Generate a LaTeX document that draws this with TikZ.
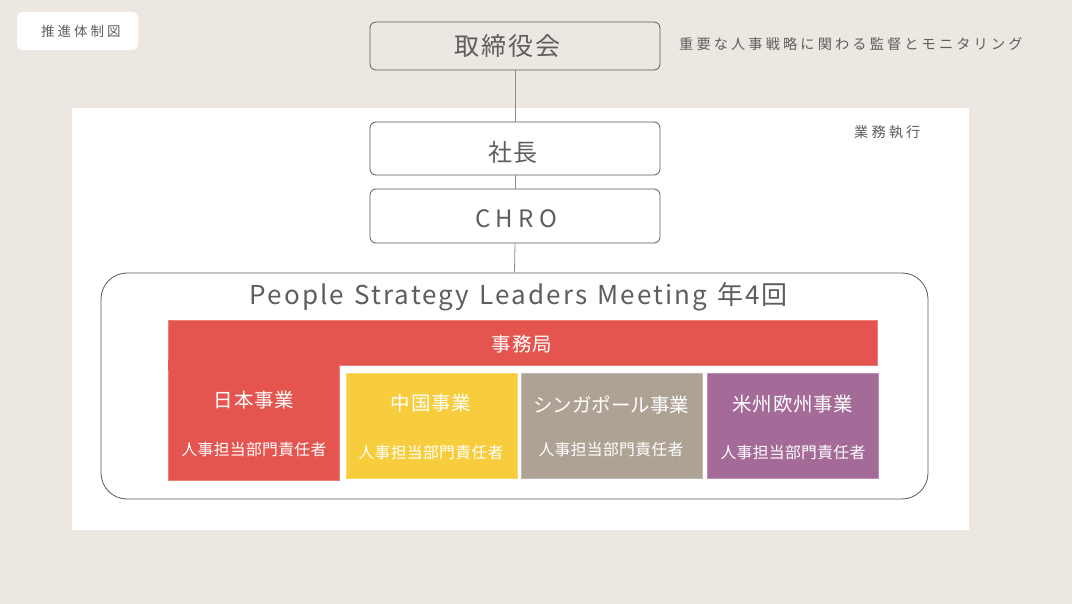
\documentclass[tikz,border=0pt]{standalone}
\usepackage{fontspec}
\setmainfont{Noto Sans CJK JP}
\newfontfamily\lsA[LetterSpace=22]{Noto Sans CJK JP}
\newfontfamily\lsB[LetterSpace=8]{Noto Sans CJK JP}
\newfontfamily\lsC[LetterSpace=4]{Noto Sans CJK JP}
\newfontfamily\lsD[LetterSpace=8,WordSpace=1.3]{Noto Sans CJK JP}
\newfontfamily\lsE[LetterSpace=2]{Noto Sans CJK JP}
\definecolor{bgc}{HTML}{ECE7E1}
\definecolor{txt}{HTML}{5E5E5E}
\definecolor{edge}{HTML}{5A5A5A}
\definecolor{redc}{HTML}{E5554F}
\definecolor{yelc}{HTML}{F8CD3D}
\definecolor{grayc}{HTML}{ADA294}
\definecolor{purc}{HTML}{A46A98}
\tikzset{
  rolebox/.style={draw=edge, line width=0.8pt, rounded corners=6pt, fill=#1, minimum width=290pt, inner sep=0pt},
  unitbox/.style={fill=#1, draw=#1!75!white, line width=0.8pt, inner sep=0pt},
  headtxt/.style={text=txt, font=\lsB\fontsize{25}{25}\selectfont, inner sep=0pt, anchor=center},
  smalltxt/.style={text=txt, font=\lsA\fontsize{14.2}{15}\selectfont, inner sep=0pt},
  unittitle/.style={text=white, font=\lsC\fontsize{19.5}{20}\selectfont, inner sep=0pt},
  unitsub/.style={text=white, font=\lsE\fontsize{15.8}{16}\selectfont, inner sep=0pt},
  conn/.style={draw=black!45, line width=0.8pt}
}
\begin{document}
\begin{tikzpicture}[x=1pt,y=-1pt]
\useasboundingbox (0,0) rectangle (1072,604);
\fill[bgc] (0,0) rectangle (1072,604);
\fill[white] (72,108) rectangle (969,530);
% legend tag
\node[fill=white, rounded corners=5pt, minimum width=121pt, minimum height=38pt, inner sep=0pt] (tag) at (77.5,31) {};
\node[smalltxt, anchor=west, font=\lsA\fontsize{13.5}{14}\selectfont] (tagtxt) at (41,31) {推進体制図};
% board
\node[rolebox=bgc, minimum height=48pt] (board) at (515,46) {};
\node[headtxt] (boardtxt) at (507,46) {取締役会};
\node[smalltxt, anchor=west] (boardnote) at (679,44) {重要な人事戦略に関わる監督とモニタリング};
\node[smalltxt, anchor=west] (exec) at (854,132) {業務執行};
% ceo, chro
\node[rolebox=white, minimum height=53pt] (ceo) at (515,148.5) {};
\node[headtxt, font=\lsB\fontsize{24}{24}\selectfont] (ceotxt) at (513,152) {社長};
\node[rolebox=white, minimum height=54pt] (chro) at (515,216) {};
\node[headtxt, font=\lsA\fontsize{24}{24}\selectfont] (chrotxt) at (516,219) {CHRO};
% meeting
\node[draw=edge, line width=0.8pt, rounded corners=26pt, minimum width=827pt, minimum height=226pt, inner sep=0pt] (meeting) at (514.5,386) {};
\node[headtxt, font=\lsD\fontsize{26}{26}\selectfont] (meettxt) at (519,297) {People Strategy Leaders Meeting 年4回};
% connectors
\draw[conn] (board.south) -- (ceo.north);
\draw[conn] (ceo.south) -- (chro.north);
\draw[conn] (chro.south) -- (meeting.north);
% secretariat and japan
\node[unitbox=redc, minimum width=171pt, minimum height=115pt] (japan) at (253.5,422.5) {};
\node[unitbox=redc, minimum width=709pt, minimum height=45pt] (secr) at (522.5,342.5) {};
\fill[redc] (168.4,360) rectangle (338.6,370);
\node[unittitle] (secrtxt) at (522,344) {事務局};
\node[unitbox=yelc, minimum width=171pt, minimum height=105pt] (china) at (431.5,425.5) {};
\node[unitbox=grayc, minimum width=181pt, minimum height=105pt] (sing) at (611.5,425.5) {};
\node[unitbox=purc, minimum width=171pt, minimum height=105pt] (amer) at (792.5,425.5) {};
\node[unittitle] (japant) at (254,400) {日本事業};
\node[unitsub] (japans) at (254,450) {人事担当部門責任者};
\node[unittitle] (chinat) at (431,403) {中国事業};
\node[unitsub] (chinas) at (431,453) {人事担当部門責任者};
\node[unittitle, font=\fontsize{19.5}{20}\selectfont] (singt) at (611,405) {シンガポール事業};
\node[unitsub] (sings) at (611,450) {人事担当部門責任者};
\node[unittitle] (amert) at (793,404) {米州欧州事業};
\node[unitsub] (amers) at (793,453) {人事担当部門責任者};
\end{tikzpicture}
\end{document}
